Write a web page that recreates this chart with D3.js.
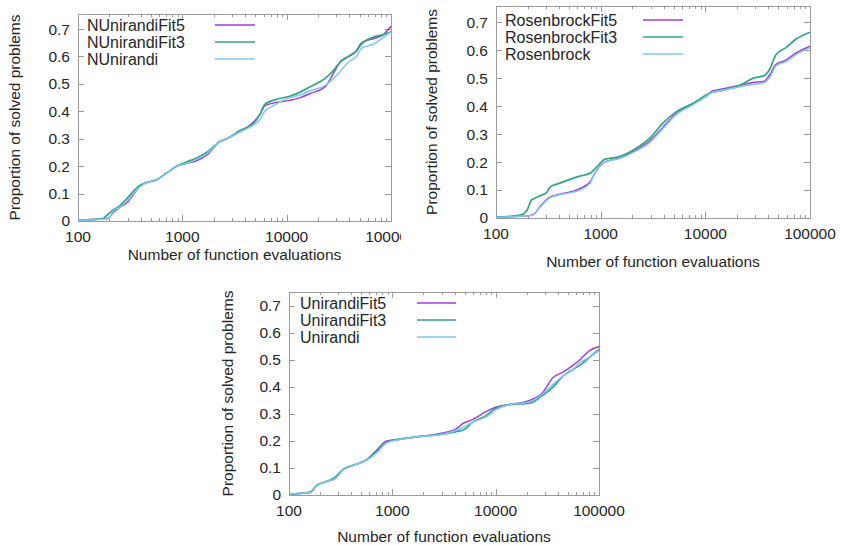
<!DOCTYPE html>
<html><head><meta charset="utf-8">
<script src="https://cdn.jsdelivr.net/npm/d3@7"></script>
<style>body{margin:0;background:#fff}svg{display:block}text{font-family:"Liberation Sans",Arial,sans-serif;fill:#262626}</style>
</head><body><svg id="c" width="841" height="545"></svg>
<script>
// ---- data ----
const xTicks = [100, 1000, 10000, 100000];
const yTicks = [0, 0.1, 0.2, 0.3, 0.4, 0.5, 0.6, 0.7];

const nuX = [100,170,195,217,251,291,391,453,563,705,881,1096,1372,1710,2290,2660,3550,4790,5560,6170,7410,10700,13500,16800,23400,28200,32600,39000,46600,52100,67600,84700,100000];
const nuFit5 = [0.003,0.008,0.01,0.03,0.05,0.065,0.125,0.14,0.15,0.175,0.2,0.21,0.22,0.24,0.29,0.30,0.325,0.36,0.39,0.42,0.43,0.44,0.45,0.465,0.49,0.54,0.58,0.60,0.62,0.65,0.665,0.68,0.71];
const nuFit3 = [0.003,0.008,0.025,0.04,0.055,0.08,0.13,0.14,0.15,0.175,0.2,0.215,0.23,0.25,0.29,0.30,0.33,0.355,0.39,0.425,0.44,0.455,0.47,0.49,0.52,0.55,0.58,0.60,0.62,0.645,0.67,0.68,0.69];
const nuBase = [0.003,0.006,0.008,0.035,0.05,0.07,0.125,0.14,0.15,0.175,0.2,0.21,0.225,0.245,0.29,0.30,0.325,0.35,0.37,0.40,0.42,0.45,0.46,0.475,0.495,0.52,0.545,0.58,0.60,0.63,0.645,0.67,0.69];

const rbX = [100,170,196,219,227,263,303,327,406,631,793,850,980,1090,1520,2190,2930,3930,5270,7600,10200,11700,13700,21500,28400,36600,40800,47400,58900,73300,100000];
const rbFit5 = [0.003,0.006,0.008,0.01,0.012,0.04,0.065,0.075,0.085,0.105,0.13,0.15,0.185,0.20,0.215,0.245,0.275,0.325,0.375,0.41,0.435,0.455,0.46,0.475,0.485,0.49,0.51,0.55,0.565,0.59,0.615];
const rbFit3 = [0.003,0.01,0.025,0.065,0.068,0.08,0.09,0.11,0.125,0.15,0.16,0.17,0.195,0.21,0.22,0.25,0.285,0.34,0.38,0.41,0.44,0.45,0.455,0.475,0.50,0.51,0.53,0.585,0.61,0.64,0.665];
const rbBase = [0.003,0.006,0.008,0.01,0.012,0.038,0.062,0.072,0.083,0.10,0.125,0.15,0.183,0.20,0.213,0.24,0.27,0.32,0.37,0.405,0.435,0.45,0.455,0.47,0.478,0.485,0.50,0.545,0.56,0.585,0.61];

const unX = [100,160,185,230,278,335,418,562,700,880,1100,1700,3070,4150,4840,6020,8130,10000,13700,21300,28600,35900,44800,56000,64900,81000,100000];
const unFit5 = [0.003,0.01,0.035,0.05,0.06,0.095,0.11,0.13,0.165,0.2,0.205,0.215,0.23,0.245,0.265,0.28,0.31,0.325,0.335,0.35,0.38,0.435,0.455,0.48,0.50,0.535,0.55];
const unFit3 = [0.003,0.01,0.035,0.05,0.065,0.095,0.11,0.13,0.16,0.195,0.205,0.215,0.225,0.235,0.24,0.27,0.295,0.32,0.335,0.34,0.37,0.40,0.44,0.465,0.48,0.51,0.54];
const unBase = [0.003,0.01,0.033,0.05,0.06,0.093,0.11,0.128,0.155,0.193,0.203,0.215,0.225,0.24,0.25,0.27,0.29,0.315,0.335,0.345,0.375,0.41,0.44,0.465,0.49,0.51,0.535];

const colors = ["#a23ddc", "#2ea580", "#7fc6ef"];

const panels = [
  {names:["NUnirandiFit5","NUnirandiFit3","NUnirandi"], x:nuX, series:[nuFit5,nuFit3,nuBase],
   L:78, R:391, T:14, B:221, yMax:0.755, legX:87, legY:25, legL:215, legR:255, yLabX:15, xLabY:255, clip:[0,0,401,545]},
  {names:["RosenbrockFit5","RosenbrockFit3","Rosenbrock"], x:rbX, series:[rbFit5,rbFit3,rbBase],
   L:496, R:810, T:6, B:218, yMax:0.759, legX:505, legY:20, legL:643, legR:683, yLabX:432, xLabY:262, clip:null},
  {names:["UnirandiFit5","UnirandiFit3","Unirandi"], x:unX, series:[unFit5,unFit3,unBase],
   L:289, R:599, T:292, B:495, yMax:0.752, legX:300, legY:303, legL:417, legR:456, yLabX:228, xLabY:537, clip:null}
];

const FS = 15.5, LFS = 16;
const svg = d3.select("#c");
const defs = svg.append("defs");

panels.forEach((p, pi) => {
  let g = svg.append("g");
  if (p.clip) {
    defs.append("clipPath").attr("id","cp"+pi).append("rect")
      .attr("x",p.clip[0]).attr("y",p.clip[1]).attr("width",p.clip[2]).attr("height",p.clip[3]);
    g.attr("clip-path","url(#cp"+pi+")");
  }
  const x = d3.scaleLog().domain([100,100000]).range([p.L,p.R]);
  const y = d3.scaleLinear().domain([0,p.yMax]).range([p.B,p.T]);

  const minor = [];
  for (let e = 2; e < 5; e++) for (let m = 2; m <= 9; m++) minor.push(m*Math.pow(10,e));
  const tk = g.append("g").attr("stroke","#9a9a9a").attr("stroke-width",1);
  minor.forEach(v => {
    const xx = Math.round(x(v))+0.5;
    tk.append("line").attr("x1",xx).attr("x2",xx).attr("y1",p.B).attr("y2",p.B-3);
    tk.append("line").attr("x1",xx).attr("x2",xx).attr("y1",p.T).attr("y2",p.T+3);
  });
  xTicks.forEach(v => {
    const xx = Math.round(x(v))+0.5;
    tk.append("line").attr("x1",xx).attr("x2",xx).attr("y1",p.B).attr("y2",p.B-6);
    tk.append("line").attr("x1",xx).attr("x2",xx).attr("y1",p.T).attr("y2",p.T+6);
  });
  yTicks.forEach(v => {
    const yy = Math.round(y(v))+0.5;
    tk.append("line").attr("x1",p.L).attr("x2",p.L+6).attr("y1",yy).attr("y2",yy);
    tk.append("line").attr("x1",p.R).attr("x2",p.R-6).attr("y1",yy).attr("y2",yy);
  });

  g.append("rect").attr("x",p.L+0.5).attr("y",p.T+0.5).attr("width",p.R-p.L).attr("height",p.B-p.T)
    .attr("fill","none").attr("stroke","#9a9a9a").attr("stroke-width",1);

  yTicks.forEach(v => {
    g.append("text").attr("x",p.L-8).attr("y",y(v)).attr("dy","0.35em").attr("text-anchor","end")
      .attr("font-size",FS).text(d3.format("")(v));
  });
  xTicks.forEach(v => {
    g.append("text").attr("x",x(v)).attr("y",p.B+16).attr("dy","0.35em").attr("text-anchor","middle")
      .attr("font-size",FS).text(String(v));
  });

  g.append("text").attr("transform",`translate(${p.yLabX},${(p.T+p.B)/2}) rotate(-90)`)
    .attr("text-anchor","middle").attr("dy","0.35em").attr("font-size",FS).text("Proportion of solved problems");
  g.append("text").attr("x",(p.L+p.R)/2).attr("y",p.xLabY).attr("dy","0.35em").attr("text-anchor","middle")
    .attr("font-size",FS).text("Number of function evaluations");

  const line = d3.line().x(d => x(d[0])).y(d => y(d[1])).curve(d3.curveMonotoneX);
  p.series.forEach((s, si) => {
    const pts = p.x.map((xv, i) => [xv, s[i]]);
    g.append("path").datum(pts).attr("d",line).attr("fill","none")
      .attr("stroke",colors[si]).attr("stroke-width",si===1?1.7:1.5).attr("stroke-linejoin","round");
  });

  p.names.forEach((n, i) => {
    const ly = p.legY + i*17;
    g.append("text").attr("x",p.legX).attr("y",ly).attr("dy","0.35em").attr("font-size",LFS).text(n);
    g.append("line").attr("x1",p.legL).attr("x2",p.legR).attr("y1",ly).attr("y2",ly)
      .attr("stroke",colors[i]).attr("stroke-width",i===1?1.7:1.5);
  });
});
</script></body></html>
